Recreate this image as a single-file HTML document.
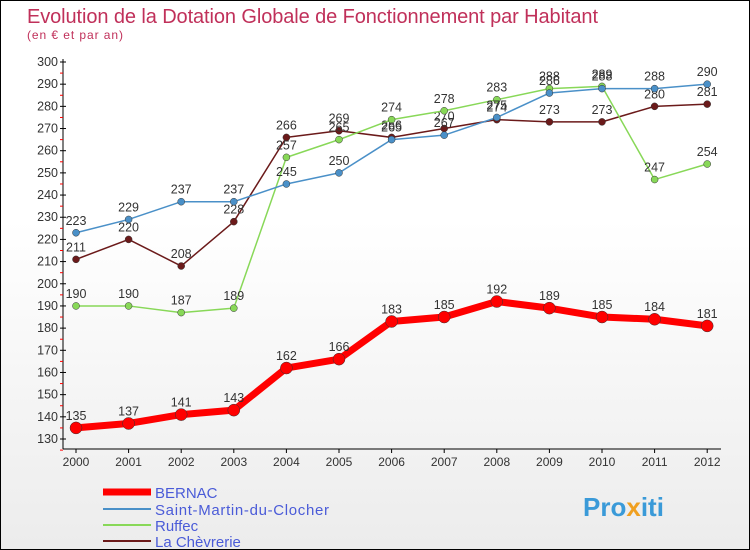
<!DOCTYPE html>
<html><head><meta charset="utf-8"><style>
body{margin:0}
#c{width:748px;height:548px;border:1px solid #000;background:linear-gradient(#fff,#fff 40%,#ececec);position:relative;font-family:"Liberation Sans",sans-serif}
</style></head><body>
<div id="c">
<svg id="s" width="748" height="548" style="position:absolute;left:0;top:0">
<text x="26" y="22" font-size="20" fill="#c0305a" textLength="571">Evolution de la Dotation Globale de Fonctionnement par Habitant</text>
<text x="26" y="38" font-size="12" fill="#c0305a" textLength="96">(en € et par an)</text>
<g id="axes"></g><g id="series"></g>
<g>
<line x1="102" y1="491" x2="150" y2="491" stroke="#f00" stroke-width="7"/><text x="154" y="497" font-size="15" fill="#4a5bd8">BERNAC</text>
<line x1="102" y1="508" x2="150" y2="508" stroke="#4a90c8" stroke-width="2"/><text x="154" y="514" font-size="15" fill="#4a5bd8" textLength="174">Saint-Martin-du-Clocher</text>
<line x1="102" y1="524" x2="150" y2="524" stroke="#88d858" stroke-width="2"/><text x="154" y="530" font-size="15" fill="#4a5bd8">Ruffec</text>
<line x1="102" y1="540" x2="150" y2="540" stroke="#6b1a1a" stroke-width="2"/><text x="154" y="546" font-size="15" fill="#4a5bd8">La Chèvrerie</text>
</g>
<text x="582" y="515" font-size="26" font-weight="bold" fill="#3a9ad8">Pro<tspan fill="#f0a020">x</tspan><tspan fill="#3a9ad8">iti</tspan></text>
</svg></div>
<script>
const years=[2000,2001,2002,2003,2004,2005,2006,2007,2008,2009,2010,2011,2012];
const yTicks=[130,140,150,160,170,180,190,200,210,220,230,240,250,260,270,280,290,300];
const bernac=[135,137,141,143,162,166,183,185,192,189,185,184,181];
const saintMartin=[223,229,237,237,245,250,265,267,275,286,288,288,290];
const ruffec=[190,190,187,189,257,265,274,278,283,288,289,247,254];
const chevrerie=[211,220,208,228,266,269,266,270,274,273,273,280,281];
const NS="http://www.w3.org/2000/svg";
const X=i=>75+i*52.6, Y=v=>61+(300-v)*(377/170);
function mk(t,a,p){const e=document.createElementNS(NS,t);for(const k in a)e.setAttribute(k,a[k]);p.appendChild(e);return e;}
const ax=document.getElementById('axes'),sr=document.getElementById('series');
let l=mk('line',{x1:62,y1:58,x2:62,y2:448,stroke:'#000'},ax);

l=mk('line',{x1:62,y1:448,x2:720,y2:448,stroke:'#000'},ax);

yTicks.forEach(v=>{const y=Y(v);mk('line',{x1:59,y1:y,x2:65,y2:y,stroke:'#000'},ax);
 mk('line',{x1:59,y1:y+11.1,x2:62,y2:y+11.1,stroke:'#f00'},ax);
 const t=mk('text',{x:57,y:y+4,'font-size':12.5,fill:'#333','text-anchor':'end'},ax);t.textContent=v;
 });
years.forEach((yr,i)=>{mk('line',{x1:X(i),y1:448,x2:X(i),y2:452,stroke:'#000'},ax);
 const t=mk('text',{x:X(i),y:465,'font-size':12,fill:'#333','text-anchor':'middle'},ax);t.textContent=yr;
 });
function draw(data,col,w,r,name){const g=mk('g',{},sr);
 const p=mk('polyline',{points:data.map((v,i)=>X(i)+','+Y(v)).join(' '),fill:'none',stroke:col,'stroke-width':w,'stroke-linejoin':'round'},g);
 
 data.forEach((v,i)=>{const c=mk('circle',{cx:X(i),cy:Y(v),r:r,fill:col,stroke:'#333','stroke-width':0.5},g);
  
  const t=mk('text',{x:X(i),y:Y(v)-8,'font-size':12.5,fill:'#333','text-anchor':'middle'},g);t.textContent=v;
  });}
draw(chevrerie,'#6b1a1a',1.5,3.5,'la-chevrerie');
draw(ruffec,'#88d858',1.5,3.5,'ruffec');
draw(saintMartin,'#4a90c8',1.5,3.5,'saint-martin');
draw(bernac,'#f00',7,6,'bernac');
</script></body></html>
